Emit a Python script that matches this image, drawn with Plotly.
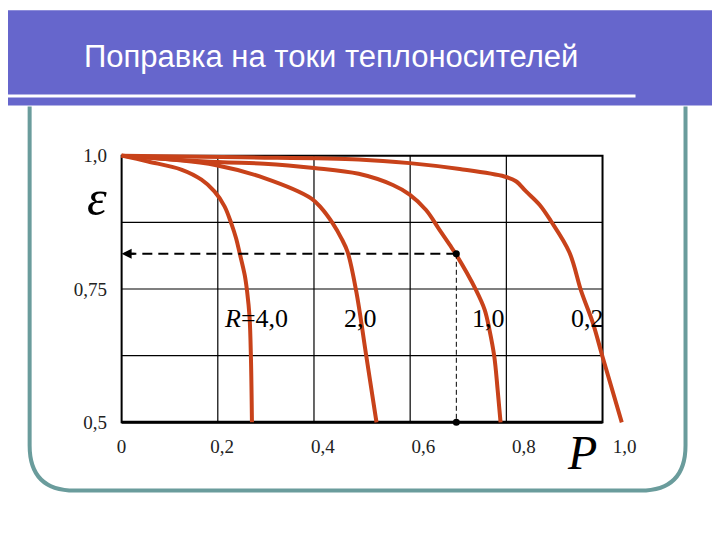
import plotly.graph_objects as go

# ---------------- data ----------------
R_values = ["4,0", "2,0", "1,0", "0,2"]

P_R4 = [0.0, 0.055, 0.124, 0.166, 0.193, 0.214, 0.228, 0.238, 0.245, 0.256, 0.261, 0.266, 0.269, 0.271]
eps_R4 = [1.0, 0.989, 0.974, 0.955, 0.933, 0.905, 0.873, 0.845, 0.819, 0.776, 0.745, 0.698, 0.617, 0.5]

P_R2 = [0.0, 0.10, 0.197, 0.297, 0.394, 0.415, 0.439, 0.457, 0.470, 0.488, 0.509, 0.530]
eps_R2 = [1.0, 0.993, 0.982, 0.958, 0.920, 0.902, 0.873, 0.845, 0.819, 0.745, 0.623, 0.5]

P_R1 = [0.0, 0.20, 0.297, 0.40, 0.493, 0.564, 0.599, 0.633, 0.661, 0.682, 0.696, 0.737, 0.755, 0.765, 0.775, 0.782, 0.788]
eps_R1 = [1.0, 0.988, 0.985, 0.977, 0.966, 0.945, 0.927, 0.898, 0.861, 0.833, 0.814, 0.748, 0.711, 0.673, 0.623, 0.560, 0.5]

P_R02 = [0.0, 0.25, 0.493, 0.599, 0.703, 0.796, 0.82, 0.841, 0.869, 0.893, 0.931, 0.956, 0.980, 1.0, 1.04]
eps_R02 = [1.0, 0.997, 0.993, 0.986, 0.975, 0.961, 0.952, 0.933, 0.908, 0.877, 0.819, 0.745, 0.686, 0.623, 0.5]

x_tick_vals = [0, 0.2, 0.4, 0.6, 0.8, 1.0]
x_tick_text = ["0", "0,2", "0,4", "0,6", "0,8", "1,0"]
y_tick_vals = [0.5, 0.75, 1.0]
y_tick_text = ["0,5", "0,75", "1,0"]
grid_x = [0.2, 0.4, 0.6, 0.8]
grid_y = [0.625, 0.75, 0.875]

example_P = 0.696
example_eps = 0.816

title_text = "Поправка на токи теплоносителей"

# ---------------- layout geometry ----------------
OFF = 8                       # page body margin of the html page
W, H = 720 - OFF, 540 - OFF
X0_PX, X_UNIT = 122 - OFF, 481    # pixel of P=0, pixels per unit P
Y1_PX, Y_UNIT = 156 - OFF, 532    # pixel of eps=1, pixels per unit eps
LBL_UNIT = 503                    # spacing used by the printed P labels
x_range = [-0.02, 1.08]
y_range = [0.48, 1.02]

ml = X0_PX + x_range[0] * X_UNIT
pw = (x_range[1] - x_range[0]) * X_UNIT
mr = W - ml - pw
mt = Y1_PX - (y_range[1] - 1.0) * Y_UNIT
ph = (y_range[1] - y_range[0]) * Y_UNIT
mb = H - mt - ph
x2_range = [(ml - X0_PX) / LBL_UNIT, (ml + pw - X0_PX) / LBL_UNIT]


def px(x):
    """screen pixel x -> paper fraction"""
    return (x - OFF - ml) / pw


def py(y):
    """screen pixel y -> paper fraction"""
    return ((mt + ph) - (y - OFF)) / ph


CURVE = "#C8421A"
FRAME = "#6A9C9C"
BAND = "#6666CC"
SERIF = "Liberation Serif"

fig = go.Figure()

for P, E in [(P_R4, eps_R4), (P_R2, eps_R2), (P_R1, eps_R1), (P_R02, eps_R02)]:
    fig.add_trace(go.Scatter(x=P, y=E, mode="lines",
                             line=dict(color=CURVE, width=4, shape="spline", smoothing=1.0),
                             hoverinfo="skip", showlegend=False))

# example reading: dashed guide lines and dots
fig.add_trace(go.Scatter(x=[example_P, 0], y=[example_eps, example_eps], mode="lines",
                         line=dict(color="black", width=2, dash="10px,6px"),
                         hoverinfo="skip", showlegend=False))
fig.add_trace(go.Scatter(x=[example_P, example_P], y=[example_eps, y_tick_vals[0]], mode="lines",
                         line=dict(color="black", width=1, dash="5px,3px"),
                         hoverinfo="skip", showlegend=False))
fig.add_trace(go.Scatter(x=[example_P, example_P], y=[example_eps, y_tick_vals[0]], mode="markers",
                         marker=dict(color="black", size=7),
                         hoverinfo="skip", showlegend=False))

# invisible trace carrying the label axis
fig.add_trace(go.Scatter(x=x_tick_vals, y=[0.5] * len(x_tick_vals), xaxis="x2", mode="markers",
                         marker=dict(opacity=0), hoverinfo="skip", showlegend=False))

shapes = []
# slide frame (rounded bottom)
r = 45
L, Rr, B, T = 30, 686, 490, 107
path = (f"M {px(L)},{py(T)} L {px(L)},{py(B - r)} Q {px(L)},{py(B)} {px(L + r)},{py(B)} "
        f"L {px(Rr - r)},{py(B)} Q {px(Rr)},{py(B)} {px(Rr)},{py(B - r)} L {px(Rr)},{py(T)}")
shapes.append(dict(type="path", xref="paper", yref="paper", path=path,
                   line=dict(color=FRAME, width=4)))
# header band
shapes.append(dict(type="rect", xref="paper", yref="paper", x0=px(0), x1=px(720),
                   y0=py(106), y1=py(11), fillcolor=BAND, line=dict(width=0)))
shapes.append(dict(type="line", xref="paper", yref="paper", x0=px(0), x1=px(636),
                   y0=py(96.5), y1=py(96.5), line=dict(color="white", width=3)))

# chart grid
for gx in grid_x:
    shapes.append(dict(type="line", xref="x", yref="y", x0=gx, x1=gx, y0=0.5, y1=1.0,
                       line=dict(color="black", width=1.2), layer="below"))
for gy in grid_y:
    shapes.append(dict(type="line", xref="x", yref="y", x0=0, x1=1.0, y0=gy, y1=gy,
                       line=dict(color="black", width=1.2), layer="below"))
shapes.append(dict(type="rect", xref="x", yref="y", x0=0, x1=1.0, y0=0.5, y1=1.0,
                   line=dict(color="black", width=2), layer="below"))
shapes.append(dict(type="line", xref="x", yref="y", x0=0, x1=1.0, y0=0.5, y1=0.5,
                   line=dict(color="black", width=3), layer="below"))

annotations = [
    dict(xref="paper", yref="paper", x=px(82), y=py(57), xanchor="left", yanchor="middle",
         text=title_text, showarrow=False,
         font=dict(family="Liberation Sans", size=31, color="white")),
    dict(xref="x", yref="y", x=0, y=example_eps, ax=0.03, ay=example_eps, axref="x", ayref="y",
         text="", showarrow=True, arrowhead=2, arrowsize=1, arrowwidth=2, arrowcolor="black"),
    dict(xref="paper", yref="paper", x=px(97), y=py(198), xanchor="center", yanchor="middle",
         text="<i>ε</i>", showarrow=False, height=40,
         font=dict(family=SERIF, size=50, color="black")),
    dict(xref="paper", yref="paper", x=px(582), y=py(452), xanchor="center", yanchor="middle",
         text="<i>P</i>", showarrow=False, font=dict(family=SERIF, size=48, color="black")),
]
label_x_px = [256, 361, 489, 588]
label_texts = ["<i>R</i>=" + R_values[0]] + R_values[1:]
for lx, t in zip(label_x_px, label_texts):
    annotations.append(dict(xref="paper", yref="paper", x=px(lx), y=py(318),
                            xanchor="center", yanchor="middle",
                            text=t, showarrow=False,
                            font=dict(family=SERIF, size=26, color="black")))

fig.update_layout(
    width=W, height=H,
    margin=dict(l=ml, r=mr, t=mt, b=mb, pad=0, autoexpand=False),
    paper_bgcolor="white", plot_bgcolor="rgba(0,0,0,0)",
    xaxis=dict(range=x_range, showgrid=False, zeroline=False, showline=False,
               showticklabels=False, ticks="", fixedrange=True),
    xaxis2=dict(range=x2_range, overlaying="x", side="bottom", anchor="y",
                tickvals=x_tick_vals, ticktext=x_tick_text, showgrid=False, zeroline=False,
                showline=False, ticks="", ticklabelstandoff=0,
                tickfont=dict(family=SERIF, size=19, color="#222")),
    yaxis=dict(range=y_range, tickvals=y_tick_vals, ticktext=y_tick_text, showgrid=False,
               zeroline=False, showline=False, ticks="", ticklabelstandoff=4,
               tickfont=dict(family=SERIF, size=19, color="#222")),
    shapes=shapes, annotations=annotations, hovermode=False, showlegend=False,
)

fig.write_html("out.html")
